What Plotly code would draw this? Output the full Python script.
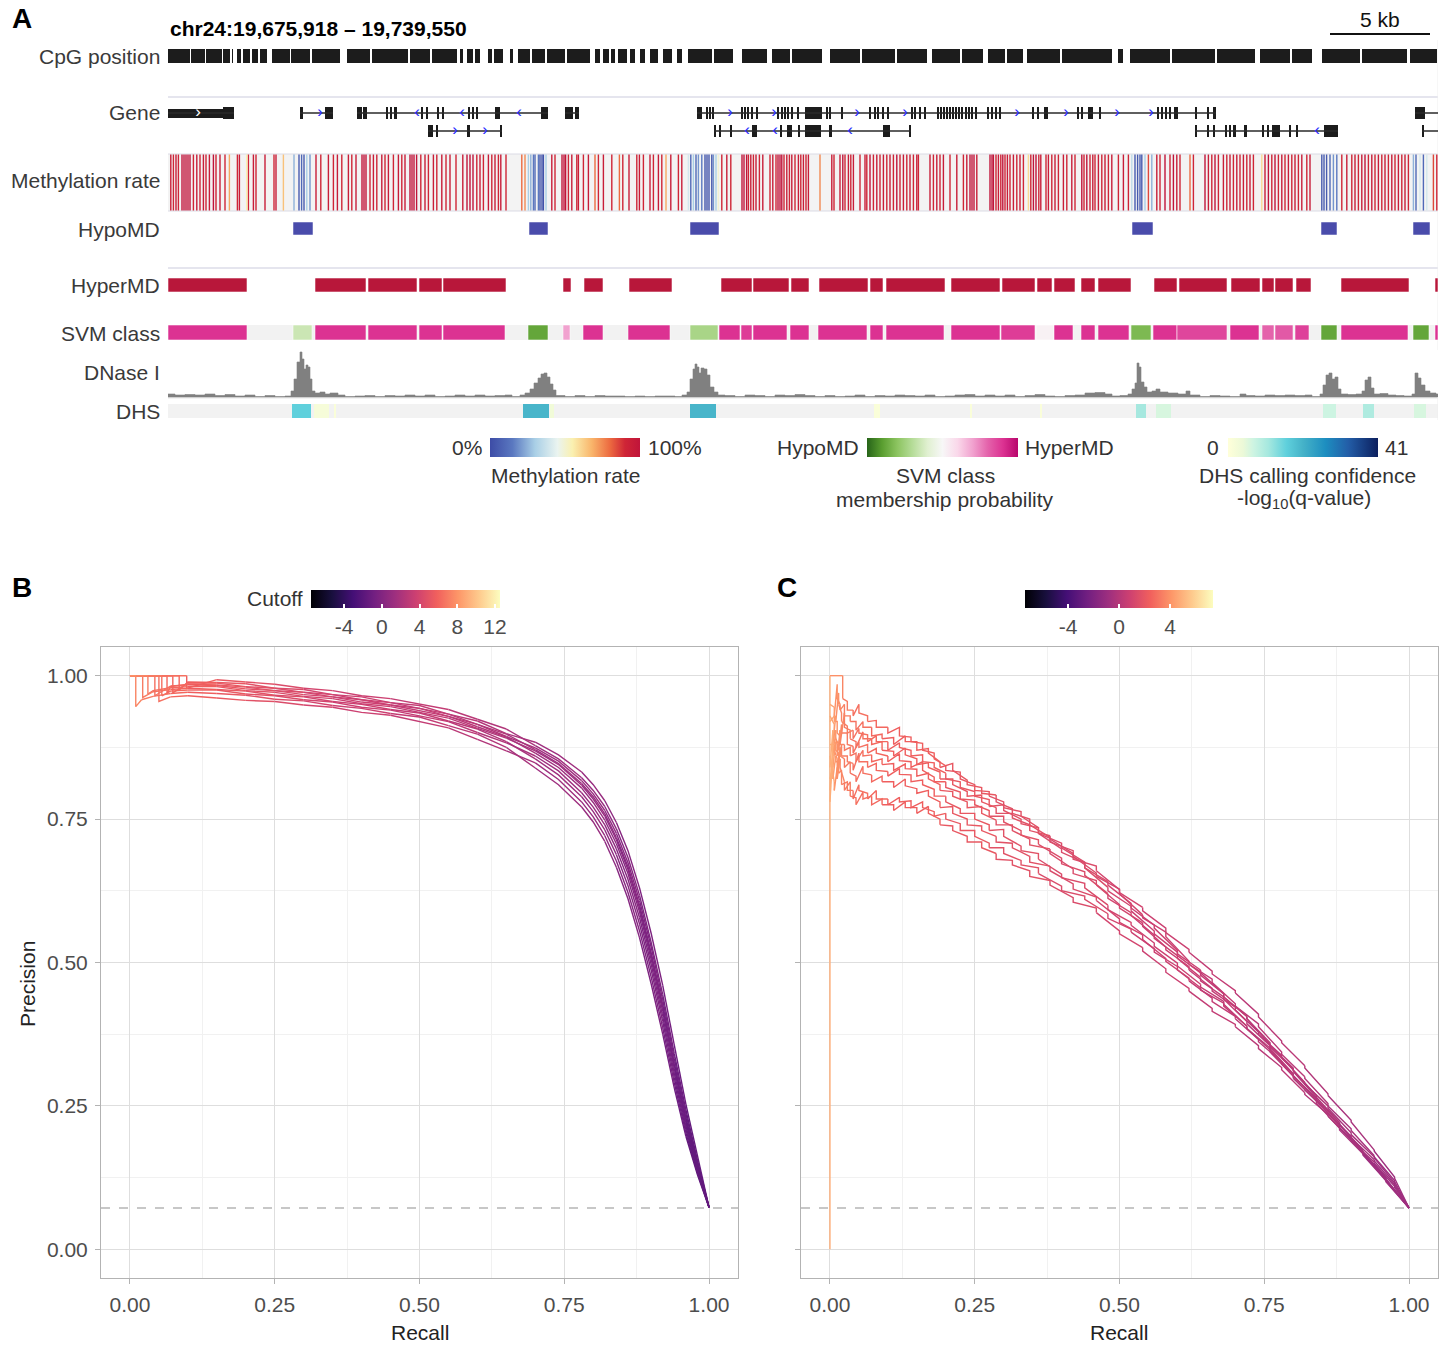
import numpy as np
import plotly.graph_objects as go

W, H = 1447, 1346
FONT = "Liberation Sans, Arial, Helvetica, sans-serif"

# ======================= PANEL A DATA =======================
region_title = "chr24:19,675,918 \u2013 19,739,550"
region_len_kb = 63.5
scale_bar_kb = (58.1, 63.1)
track_labels = ["CpG position", "Gene", "Methylation rate", "HypoMD",
                "HyperMD", "SVM class", "DNase I", "DHS"]

# CpG clusters (start_kb, end_kb)
cpg_blocks = [(0, 1.1), (1.15, 1.85), (1.9, 2.7), (2.75, 3.1), (3.2, 3.25), (3.45, 3.65), (3.75, 4.1),
              (4.2, 4.5), (4.6, 4.95), (5.2, 6.1), (6.15, 7.1), (7.2, 8.6), (8.95, 10.1), (10.2, 12.0),
              (12.1, 13.1), (13.2, 14.45), (14.6, 14.75), (14.95, 15.25), (15.35, 15.6), (16.0, 16.2),
              (16.3, 16.75), (17.1, 17.25), (17.5, 18.1), (18.2, 18.85), (18.95, 19.85), (19.95, 21.1),
              (21.35, 21.6), (21.75, 22.05), (22.15, 22.35), (22.5, 22.95), (23.1, 23.35), (23.6, 23.85),
              (24.1, 24.5), (24.75, 25.2), (25.45, 25.7), (26.0, 27.2), (27.3, 28.25), (28.7, 29.95),
              (30.2, 31.1), (31.2, 32.7), (33.1, 34.6), (34.7, 36.35), (36.45, 37.95), (38.2, 39.6),
              (39.7, 40.75), (41.0, 41.85), (41.95, 42.75), (42.95, 44.6), (44.7, 47.2), (47.5, 47.75),
              (48.1, 50.1), (50.2, 52.35), (52.45, 54.35), (54.6, 56.1), (56.2, 57.2), (57.7, 59.6),
              (59.7, 61.95), (62.1, 63.45)]

# Methylation rate per CpG site (position_kb, rate 0..1)
meth_sites = [
    (0.14, .95), (0.27, .9), (0.40, .95), (0.52, .9), (0.70, 1), (0.80, 1), (0.90, 1), (1.00, 1), (1.10, 1),
    (1.27, .9), (1.44, .95), (1.60, .9), (1.77, .95), (1.90, .9), (2.07, .95), (2.27, 1), (2.40, .9), (2.60, .95),
    (2.85, .9), (3.07, .7), (3.47, .9), (3.57, .95), (3.94, .55), (4.02, .9), (4.27, .95), (4.40, .9), (4.85, .95),
    (5.30, .9), (5.40, .95), (5.77, .65), (6.30, .25), (6.55, .05), (6.68, .1), (6.80, .05), (6.94, .3), (7.10, .2),
    (7.40, .95), (7.64, .9), (8.02, .95), (8.27, .9), (8.47, .95), (8.69, .9), (9.02, .95), (9.19, .9), (9.40, .95),
    (9.70, 1), (9.80, 1), (9.90, 1), (10.10, .9), (10.27, .95), (10.44, .9), (10.69, .95), (10.85, .9), (11.02, .95),
    (11.27, .9), (11.52, .95), (11.69, .9), (11.85, .95), (12.10, 1), (12.20, 1), (12.30, 1), (12.43, 1), (12.64, .9),
    (12.85, .95), (13.02, .9), (13.27, .95), (13.44, .9), (13.69, .95), (13.90, .9), (14.10, .95), (14.40, .9),
    (14.74, .95), (14.95, 1), (15.10, 1), (15.25, 1), (15.44, .9), (15.60, .95), (15.77, .9),
    (16.02, .95), (16.19, .9), (16.35, .95), (16.52, .9), (16.64, .95), (16.90, .9), (17.69, .8), (17.85, .75),
    (18.02, .3), (18.14, .25), (18.27, .15), (18.35, .1), (18.52, .15), (18.60, .02), (18.70, .02), (18.77, .02),
    (18.90, .3), (19.19, .95), (19.35, .9), (19.70, 1), (19.80, 1), (19.88, 1), (20.02, .9), (20.19, .95), (20.44, .9),
    (20.52, .95), (20.77, .9), (21.02, .95), (21.35, .8), (21.52, .9), (21.77, .95), (22.19, .9), (22.57, .8),
    (22.74, .9), (23.05, .95), (23.44, .9), (23.57, .95), (23.77, .9), (24.10, .95), (24.27, .9), (24.52, .95),
    (24.69, .9), (24.90, .7), (25.14, .95), (25.52, .9), (25.69, .95), (26.02, .4), (26.14, .1), (26.27, .3),
    (26.40, .1), (26.52, .2), (26.69, .15), (26.85, .03), (26.95, .03), (27.05, .03), (27.19, .03), (27.27, .2),
    (27.40, .3), (27.52, .5), (27.69, .9), (27.94, .95), (28.14, .9), (28.70, 1), (28.80, 1), (28.93, 1), (29.02, .9),
    (29.14, .95), (29.27, .9), (29.40, .95), (29.57, .9), (29.74, .95), (30.10, .9), (30.24, .95), (30.40, .9),
    (30.50, 1), (30.60, 1), (30.69, 1), (30.80, .9), (30.94, .95), (31.07, .9), (31.19, .95), (31.35, .9), (31.52, .95),
    (31.64, .9), (31.77, .95), (31.90, .9), (32.02, .95), (32.60, .75), (33.19, .95), (33.30, .9), (33.60, .95),
    (33.74, 1), (33.85, .9), (34.02, .95), (34.14, .9), (34.27, .95), (34.60, .9), (34.85, .95), (34.94, .9),
    (35.10, 1), (35.27, .9), (35.44, .95), (35.60, .9), (35.77, .95), (35.94, .9), (36.10, .95), (36.27, .9),
    (36.44, 1), (36.60, .9), (36.77, .95), (36.94, .9), (37.10, .95), (37.27, .9), (37.44, .95), (37.52, .9),
    (38.10, .95), (38.27, .9), (38.44, .95), (38.60, .9), (38.77, .95), (39.10, .9), (39.44, .95), (39.77, .9),
    (39.94, .95), (40.10, 1), (40.20, 1), (40.30, 1), (40.44, .95),
    (41.10, 1), (41.20, 1), (41.27, 1), (41.40, .9), (41.52, .95), (41.64, .9), (41.74, 1), (41.85, .9), (41.97, .95),
    (42.10, .9), (42.27, .95), (42.44, .9), (42.60, .95), (42.77, .9), (43.02, .6), (43.14, .9), (43.27, 1),
    (43.40, 1), (43.54, .9), (43.64, .95), (43.90, .9), (44.02, .95), (44.19, .9), (44.35, .95), (44.52, .9),
    (44.77, .95), (44.94, .9), (45.19, .95), (45.35, .9), (45.69, 1), (45.80, .9), (45.94, 1), (46.10, .9),
    (46.24, .95), (46.35, .9), (46.52, .95), (46.69, .9), (46.85, .95), (47.02, .9), (47.19, .95), (47.52, .9),
    (47.77, .95), (48.02, .9), (48.19, .35), (48.35, .05), (48.48, .05), (48.60, .05), (48.69, .05), (48.85, .3),
    (49.02, .85), (49.19, .25), (49.44, .95), (49.60, .9), (49.85, 1), (50.10, .9), (50.27, 1), (50.44, .95),
    (50.60, .9), (51.10, .8), (51.27, .9), (51.85, 1), (52.02, .95), (52.19, .9), (52.35, 1), (52.52, .9),
    (52.77, .95), (52.94, .9), (53.10, .95), (53.27, .9), (53.44, .95), (53.60, .9), (53.77, .95), (53.94, .9),
    (54.10, .95), (54.27, .9), (54.69, .6), (54.85, .95), (55.02, 1), (55.19, .9), (55.35, 1), (55.52, .9),
    (55.69, .95), (55.85, .9), (56.02, .95), (56.19, .9), (56.35, .95), (56.52, .9), (56.69, .95), (56.94, .9),
    (57.10, .95), (57.69, .05), (57.80, .05), (57.93, .05), (58.10, .1), (58.27, .2), (58.44, .15), (58.69, .9),
    (58.94, .95), (59.19, .9), (59.35, .95), (59.52, .9), (59.69, .95), (59.85, 1), (60.02, .9), (60.19, .95),
    (60.35, .9), (60.52, .95), (60.69, .9), (60.85, .95), (61.02, .9), (61.19, .95), (61.35, .9), (61.52, .95),
    (61.69, .9), (61.85, .95), (62.02, .9), (62.27, .25), (62.40, .1), (62.60, .4), (62.77, .1), (62.94, .4),
    (63.27, .85), (63.44, .9)]

# Gene models: row, transcript span, coding exons, UTR blocks, strand, strand-arrow positions
genes = [
    dict(row=1, span=(0.0, 3.3), exons=[(2.75, 3.3)], utrs=[(0.0, 2.75)], strand="+", arrows=[1.5]),
    dict(row=1, span=(6.6, 8.25), exons=[(6.6, 6.75), (7.85, 8.25)], utrs=[], strand="+", arrows=[7.6]),
    dict(row=1, span=(9.45, 19.0), exons=[(9.45, 9.7), (9.75, 9.95), (10.9, 11.0), (11.1, 11.2), (11.3, 11.45),
                                          (12.65, 12.75), (12.9, 13.0), (13.45, 13.55), (13.7, 13.8), (15.0, 15.1),
                                          (15.2, 15.3), (15.4, 15.5), (16.35, 16.6), (18.65, 19.0)],
         utrs=[], strand="-", arrows=[12.45, 14.7, 17.55]),
    dict(row=1, span=(19.85, 20.55), exons=[(19.85, 20.25), (20.35, 20.55)], utrs=[], strand="-", arrows=[]),
    dict(row=1, span=(26.45, 52.4), exons=[
        (26.45, 26.7), (26.9, 27.0), (27.05, 27.15), (27.2, 27.3), (28.65, 28.75), (28.8, 28.9), (28.95, 29.05),
        (29.15, 29.25), (29.4, 29.5), (30.45, 30.55), (30.65, 30.75), (30.8, 30.9), (30.95, 31.05), (31.15, 31.25),
        (31.45, 31.55), (31.85, 32.7), (32.9, 33.0), (33.05, 33.15), (33.65, 33.75), (35.05, 35.15), (35.3, 35.4),
        (35.45, 35.55), (35.7, 35.8), (35.95, 36.05), (37.15, 37.25), (37.3, 37.4), (37.55, 37.65), (37.8, 37.9),
        (38.45, 38.55), (38.6, 38.7), (38.75, 38.85), (38.9, 39.0), (39.05, 39.15), (39.2, 39.3), (39.35, 39.45),
        (39.5, 39.6), (39.65, 39.75), (39.85, 39.95), (40.0, 40.1), (40.15, 40.25), (40.35, 40.45), (40.95, 41.05),
        (41.15, 41.25), (41.35, 41.45), (41.55, 41.65), (43.2, 43.3), (43.45, 43.55), (43.8, 44.0), (45.45, 45.55),
        (45.65, 45.75), (46.0, 46.25), (46.55, 46.65), (49.45, 49.55), (49.65, 49.75), (49.85, 49.95),
        (50.05, 50.15), (50.3, 50.5), (51.35, 51.45), (51.95, 52.05), (52.25, 52.4)],
         utrs=[], strand="+", arrows=[28.1, 30.3, 34.45, 36.85, 42.45, 44.9, 47.45, 49.15]),
    dict(row=1, span=(62.35, 63.5), exons=[(62.35, 62.85)], utrs=[], strand="+", arrows=[]),
    dict(row=2, span=(13.0, 16.7), exons=[(13.0, 13.25), (13.4, 13.5), (14.95, 15.1), (16.6, 16.7)],
         utrs=[], strand="+", arrows=[14.35, 15.85]),
    dict(row=2, span=(27.3, 37.15), exons=[(27.3, 27.4), (27.55, 27.65), (28.1, 28.2), (29.2, 29.45), (30.6, 30.7),
                                           (30.95, 31.2), (31.5, 31.6), (31.85, 32.65), (33.05, 33.2),
                                           (35.75, 36.1), (37.05, 37.15)],
         utrs=[], strand="-", arrows=[28.95, 30.35, 34.1]),
    dict(row=2, span=(51.35, 58.5), exons=[(51.35, 51.45), (51.95, 52.05), (52.25, 52.35), (52.85, 52.95),
                                           (53.05, 53.15), (53.25, 53.4), (53.8, 53.95), (54.7, 54.8),
                                           (54.95, 55.05), (55.2, 55.6), (56.05, 56.15), (56.4, 56.5), (57.8, 58.5)],
         utrs=[], strand="-", arrows=[57.45]),
    dict(row=2, span=(62.7, 63.5), exons=[(62.7, 62.8)], utrs=[], strand="+", arrows=[]),
]

hypomd_regions = [(6.25, 7.25), (18.05, 19.0), (26.1, 27.55), (48.2, 49.25), (57.65, 58.45), (62.25, 63.1)]

hypermd_regions = [(0, 3.95), (7.35, 9.9), (10.0, 12.45), (12.55, 13.7), (13.75, 16.9), (19.75, 20.15),
                   (20.8, 21.75), (23.05, 25.2), (27.65, 29.2), (29.25, 31.05), (31.15, 32.05), (32.55, 35.0),
                   (35.1, 35.75), (35.9, 38.85), (39.15, 41.6), (41.7, 43.35), (43.45, 44.2), (44.3, 45.35),
                   (45.65, 46.35), (46.5, 48.15), (49.3, 50.45), (50.55, 52.95), (53.15, 54.6), (54.7, 55.3),
                   (55.35, 56.25), (56.4, 57.15), (58.65, 62.05), (63.35, 63.5)]

# SVM segments: (start, end, class membership probability: 0 = HypoMD, 1 = HyperMD)
svm_segments = [(0, 3.95, .9), (6.25, 7.2, .35), (7.35, 9.9, .9), (10.0, 12.45, .9), (12.55, 13.7, .9),
                (13.75, 16.85, .9), (18.0, 19.0, .12), (19.75, 20.1, .7), (20.75, 21.75, .9), (23.0, 25.1, .9),
                (26.1, 27.5, .27), (27.55, 28.6, .9), (28.65, 29.2, .88), (29.25, 30.95, .9), (31.1, 32.05, .9),
                (32.5, 34.95, .9), (35.1, 35.75, .9), (35.9, 38.8, .9), (39.15, 41.6, .9), (41.65, 43.35, .88),
                (43.4, 44.3, .52), (44.3, 45.25, .9), (45.65, 46.35, .9), (46.5, 48.05, .9), (48.15, 49.15, .17),
                (49.25, 50.45, .9), (50.45, 52.95, .86), (53.1, 54.55, .9), (54.7, 55.3, .8), (55.35, 56.25, .82),
                (56.35, 57.05, .87), (57.65, 58.45, .12), (58.65, 62.0, .9), (62.25, 63.05, .12), (63.35, 63.5, .9)]

# DNase I signal (position_kb, signal)
dnase_pos = [0, 0.35, 0.85, 1.35, 1.85, 2.35, 2.85, 3.35, 3.85, 4.35, 4.85, 5.35, 5.85, 6.15, 6.3, 6.45, 6.6,
             6.7, 6.8, 6.9, 7.0, 7.1, 7.2, 7.35, 7.6, 7.85, 8.1, 8.5, 8.85, 9.35, 9.85, 10.35, 10.85, 11.35,
             11.85, 12.35, 12.85, 13.35, 13.85, 14.35, 14.85, 15.35, 15.85, 16.35, 16.85, 17.2, 17.6, 17.85,
             18.1, 18.3, 18.5, 18.65, 18.8, 18.95, 19.1, 19.25, 19.4, 19.85, 20.35, 20.85, 21.35, 21.85, 22.35,
             22.85, 23.35, 23.85, 24.35, 24.85, 25.35, 25.7, 25.95, 26.1, 26.25, 26.35, 26.45, 26.55, 26.65,
             26.8, 26.95, 27.1, 27.3, 27.5, 27.85, 28.35, 28.85, 29.35, 29.85, 30.35, 30.85, 31.35, 31.85,
             32.35, 32.85, 33.35, 33.85, 34.35, 34.85, 35.35, 35.85, 36.35, 36.85, 37.35, 37.85, 38.35, 38.85,
             39.35, 39.85, 40.35, 40.85, 41.35, 41.85, 42.35, 42.85, 43.35, 43.85, 44.35, 44.85, 45.35, 45.85,
             46.35, 46.85, 47.2, 47.6, 48.0, 48.2, 48.35, 48.45, 48.55, 48.65, 48.8, 48.95, 49.2, 49.4, 49.6,
             50.0, 50.5, 50.9, 51.1, 51.6, 52.1, 52.6, 53.1, 53.6, 53.9, 54.35, 54.85, 55.35, 55.85, 56.35,
             56.85, 57.2, 57.6, 57.75, 57.9, 58.05, 58.2, 58.35, 58.5, 58.65, 59.0, 59.4, 59.7, 59.85, 60.0,
             60.15, 60.3, 60.6, 61.0, 61.4, 61.8, 62.2, 62.35, 62.5, 62.65, 62.85, 63.1, 63.4, 63.5]
dnase_signal = [3, 2, 2.5, 2, 3, 1.5, 2.5, 1, 2, 0.5, 1.5, 0.5, 1, 6, 18, 35, 45,
                38, 28, 32, 30, 18, 6, 4, 5, 3, 4, 2, 0.5, 1, 1.5, 0.5, 1.5, 1,
                2, 1, 2, 0.5, 1, 2, 1, 2, 1, 1.5, 2, 0.5, 2, 4,
                8, 14, 19, 23, 24, 20, 13, 7, 1.5, 0.5, 1.5, 0.5, 1.5, 1, 1,
                0.5, 1, 0.5, 1, 1, 0.5, 2, 5, 18, 28, 33, 30, 24, 29,
                28, 22, 10, 5, 2, 1.5, 0.5, 2, 1.5, 0.5, 2, 1.5, 2.5, 1.5,
                0.5, 1.5, 0.5, 1, 2, 0.5, 1.5, 1, 2, 1.5, 1, 2, 0.5, 1,
                2, 2.5, 1, 2, 1, 2, 0.5, 1.5, 2.5, 1, 0.5, 1.5, 2, 4,
                4.5, 3, 1, 1.5, 3, 8, 14, 34, 30, 15, 10, 5, 6, 8, 5,
                4, 3, 6, 2, 0.5, 1.5, 1, 0.5, 3, 1.5, 1, 2, 1.5, 2, 1.5,
                2, 0.5, 3, 12, 22, 24, 18, 20, 8, 3, 2.5, 3, 6, 17, 20,
                9, 3, 3.5, 2, 1.5, 1, 3, 24, 19, 12, 6, 4, 3, 3]

# DHS calls: (start, end, -log10 q-value)
dhs_peaks = [(6.2, 7.15, 16), (7.3, 8.05, 2), (8.3, 8.4, 1), (17.75, 19.05, 20), (19.1, 19.3, 3),
             (26.1, 27.4, 20), (35.3, 35.6, 1), (40.1, 40.2, 1), (43.6, 43.7, 1), (48.4, 48.9, 11),
             (49.4, 50.15, 6), (57.75, 58.4, 7), (59.75, 60.3, 10), (62.3, 62.9, 6)]

# ======================= PANEL B / C DATA =======================
ticks_pr = [0, 0.25, 0.5, 0.75, 1.0]
tick_text_pr = ["0.00", "0.25", "0.50", "0.75", "1.00"]
baseline_precision = 0.072

recall_B = [0.02, 0.04, 0.07, 0.10, 0.15, 0.20, 0.25, 0.30, 0.35, 0.40, 0.45, 0.50, 0.55, 0.60, 0.65,
            0.70, 0.74, 0.78, 0.80, 0.82, 0.84, 0.86, 0.88, 0.90, 0.92, 0.94, 0.96, 0.98, 1.00]
precision_B = [
    [.985, .988, .990, .992, .993, .989, .985, .978, .974, .965, .960, .950, .941, .924, .907,
     .878, .855, .822, .800, .772, .733, .683, .617, .535, .444, .341, .243, .155, .073],
    [.980, .983, .986, .989, .988, .986, .978, .976, .967, .963, .953, .948, .933, .921, .899,
     .884, .862, .832, .810, .782, .744, .695, .630, .551, .460, .356, .253, .162, .073],
    [.972, .980, .984, .987, .987, .981, .978, .971, .967, .958, .953, .943, .933, .915, .898,
     .871, .847, .812, .789, .759, .718, .667, .600, .517, .426, .324, .229, .147, .073],
    [.968, .976, .981, .985, .984, .980, .974, .971, .963, .958, .949, .943, .929, .915, .894,
     .874, .851, .817, .794, .765, .725, .674, .608, .527, .435, .333, .236, .151, .073],
    [.975, .978, .982, .984, .983, .977, .974, .967, .963, .954, .949, .939, .929, .911, .893,
     .865, .840, .804, .779, .748, .707, .655, .588, .506, .415, .315, .221, .142, .073],
    [.970, .974, .979, .981, .981, .974, .971, .964, .960, .951, .946, .936, .926, .908, .891,
     .869, .845, .809, .785, .755, .714, .662, .595, .513, .422, .321, .226, .145, .073],
    [.966, .972, .976, .978, .976, .973, .966, .963, .955, .950, .941, .935, .921, .907, .885,
     .855, .827, .789, .763, .731, .688, .634, .567, .487, .397, .299, .209, .136, .073],
    [.962, .968, .973, .975, .975, .968, .965, .958, .954, .945, .940, .930, .920, .901, .883,
     .860, .834, .796, .771, .740, .698, .645, .578, .497, .406, .307, .215, .139, .073],
    [.958, .964, .969, .971, .969, .966, .959, .956, .948, .943, .934, .928, .913, .898, .875,
     .839, .810, .771, .745, .711, .666, .611, .543, .463, .375, .281, .197, .130, .073],
    [.955, .960, .963, .965, .961, .957, .955, .949, .945, .936, .931, .920, .909, .889, .869,
     .848, .819, .780, .754, .721, .677, .622, .555, .475, .386, .290, .203, .133, .073],
]
# first false positive of each fold: recall where precision leaves 1.0, and precision right after
first_fp_recall_B = [0.098, 0.085, 0.074, 0.064, 0.043, 0.031, 0.022, 0.055, 0.010, 0.05]
first_fp_prec_B = [0.978, 0.975, 0.970, 0.968, 0.965, 0.968, 0.962, 0.965, 0.946, 0.955]
# cutoff (colour) along recall
cut_recall_B = [0, 0.03, 0.1, 0.2, 0.35, 0.5, 0.65, 0.8, 0.9, 1.0]
cut_value_B = [7.8, 6.8, 5.8, 4.9, 3.8, 3.1, 2.2, 1.0, -0.3, -1.8]
cut_range_B = (-7.5, 12.53)
cut_ticks_B = [-4, 0, 4, 8, 12]

# two recall grids (folds alternate between them)
recall_C = [0.005, 0.01, 0.015, 0.02, 0.03, 0.04, 0.05, 0.065, 0.08, 0.1, 0.12, 0.14, 0.16, 0.18, 0.2,
            0.225, 0.25, 0.275, 0.3, 0.33, 0.36, 0.4, 0.44, 0.48, 0.52, 0.56, 0.6, 0.64, 0.68, 0.72,
            0.76, 0.8, 0.84, 0.88, 0.92, 0.96, 1.0]
recall_C_alt = [0.0075, 0.0125, 0.0175, 0.025, 0.035, 0.045, 0.057, 0.072, 0.09, 0.11, 0.13, 0.15, 0.17, 0.19,
                0.212, 0.237, 0.262, 0.287, 0.315, 0.345, 0.38, 0.42, 0.46, 0.5, 0.54, 0.58, 0.62, 0.66, 0.7,
                0.74, 0.78, 0.82, 0.86, 0.9, 0.94, 0.975, 1.0]
# precision just after each false-positive run (bottom of each saw tooth)
precision_C = [
    [0.97, 0.98, 0.96, 0.95, 0.94, 0.93, 0.935, 0.92, 0.91, 0.90, 0.895, 0.885, 0.87, 0.855, 0.835, 0.82, 0.80,
     0.79, 0.77, 0.755, 0.725, 0.70, 0.665, 0.635, 0.595, 0.56, 0.515, 0.482, 0.44, 0.402, 0.355, 0.312, 0.265,
     0.218, 0.17, 0.123, 0.072],
    [0.93, 0.96, 0.94, 0.93, 0.92, 0.905, 0.91, 0.895, 0.89, 0.88, 0.885, 0.87, 0.865, 0.84, 0.835, 0.81, 0.795,
     0.78, 0.76, 0.74, 0.71, 0.685, 0.65, 0.62, 0.578, 0.545, 0.497, 0.465, 0.424, 0.388, 0.34, 0.298, 0.25,
     0.207, 0.161, 0.118, 0.072],
    [0.88, 0.92, 0.95, 0.92, 0.90, 0.89, 0.90, 0.885, 0.885, 0.87, 0.875, 0.86, 0.85, 0.84, 0.82, 0.805, 0.79,
     0.772, 0.765, 0.742, 0.725, 0.692, 0.665, 0.625, 0.59, 0.55, 0.512, 0.478, 0.44, 0.402, 0.353, 0.31, 0.262,
     0.217, 0.168, 0.122, 0.072],
    [0.92, 0.90, 0.88, 0.91, 0.89, 0.875, 0.89, 0.88, 0.87, 0.86, 0.862, 0.845, 0.84, 0.82, 0.81, 0.79, 0.78,
     0.76, 0.752, 0.73, 0.715, 0.68, 0.66, 0.622, 0.59, 0.552, 0.518, 0.48, 0.447, 0.405, 0.36, 0.316, 0.268,
     0.222, 0.171, 0.124, 0.072],
    [0.86, 0.89, 0.87, 0.90, 0.88, 0.865, 0.875, 0.865, 0.865, 0.85, 0.852, 0.84, 0.835, 0.815, 0.805, 0.785,
     0.775, 0.755, 0.745, 0.722, 0.706, 0.672, 0.652, 0.612, 0.582, 0.542, 0.507, 0.468, 0.436, 0.393, 0.35,
     0.303, 0.259, 0.212, 0.167, 0.12, 0.072],
    [0.90, 0.86, 0.88, 0.87, 0.86, 0.85, 0.86, 0.85, 0.845, 0.835, 0.838, 0.825, 0.82, 0.80, 0.79, 0.77, 0.76,
     0.74, 0.73, 0.705, 0.69, 0.655, 0.635, 0.595, 0.563, 0.522, 0.487, 0.45, 0.417, 0.375, 0.334, 0.288, 0.246,
     0.2, 0.159, 0.114, 0.072],
    [0.84, 0.87, 0.85, 0.86, 0.85, 0.835, 0.85, 0.84, 0.835, 0.825, 0.828, 0.815, 0.81, 0.79, 0.78, 0.76, 0.75,
     0.73, 0.72, 0.695, 0.68, 0.648, 0.63, 0.592, 0.565, 0.528, 0.494, 0.457, 0.427, 0.385, 0.344, 0.298, 0.255,
     0.208, 0.165, 0.118, 0.072],
    [0.87, 0.83, 0.86, 0.84, 0.83, 0.815, 0.83, 0.815, 0.815, 0.805, 0.808, 0.795, 0.79, 0.77, 0.76, 0.74, 0.73,
     0.71, 0.70, 0.675, 0.66, 0.628, 0.608, 0.57, 0.54, 0.502, 0.468, 0.432, 0.402, 0.362, 0.323, 0.278, 0.238,
     0.194, 0.154, 0.111, 0.072],
    [0.82, 0.85, 0.83, 0.81, 0.80, 0.785, 0.80, 0.785, 0.785, 0.775, 0.78, 0.77, 0.77, 0.755, 0.75, 0.73, 0.72,
     0.70, 0.69, 0.67, 0.655, 0.625, 0.61, 0.577, 0.553, 0.518, 0.487, 0.452, 0.424, 0.385, 0.347, 0.301, 0.26,
     0.212, 0.168, 0.119, 0.072],
    [0.80, 0.82, 0.84, 0.80, 0.79, 0.775, 0.785, 0.775, 0.775, 0.765, 0.77, 0.76, 0.76, 0.74, 0.73, 0.71, 0.70,
     0.68, 0.67, 0.65, 0.635, 0.605, 0.587, 0.55, 0.52, 0.483, 0.45, 0.415, 0.388, 0.35, 0.313, 0.27, 0.232,
     0.189, 0.15, 0.108, 0.072],
]
# height of the saw tooth (precision before the false-positive run) at each recall of the grid
tooth_C = [
    [.02, .015, .025, .01, .015, .01, .015, .01, .012, .01, .015, .008, .012, .01, .008, .012, .01, .008, .01, .008,
     .01, .008, .01, .006, .008, .005, .006, .005, .006, .004, .005, .004, .003, .003, .003, .002, 0],
    [.015, .025, .01, .02, .01, .015, .01, .015, .008, .012, .01, .015, .008, .01, .012, .008, .01, .012, .008, .01,
     .008, .01, .006, .008, .005, .008, .005, .006, .004, .005, .004, .003, .004, .003, .002, .002, 0],
    [.025, .01, .02, .015, .012, .015, .008, .012, .01, .015, .008, .01, .012, .008, .01, .01, .008, .012, .01, .008,
     .01, .006, .009, .006, .008, .005, .006, .004, .005, .004, .004, .004, .003, .003, .002, .002, 0],
    [.01, .02, .015, .025, .015, .01, .012, .01, .015, .008, .012, .01, .008, .012, .01, .008, .012, .01, .008, .01,
     .006, .01, .008, .005, .006, .008, .005, .005, .004, .005, .003, .004, .003, .003, .002, .002, 0],
    [.02, .015, .01, .015, .02, .012, .01, .015, .008, .01, .012, .01, .015, .008, .01, .012, .008, .01, .01, .008,
     .008, .01, .006, .008, .005, .006, .005, .006, .004, .004, .005, .003, .003, .003, .002, .002, 0],
    [.015, .02, .025, .01, .015, .015, .01, .012, .01, .012, .008, .012, .01, .01, .008, .01, .012, .008, .01, .01,
     .008, .008, .008, .006, .006, .005, .006, .005, .005, .004, .004, .003, .004, .003, .002, .002, 0],
    [.025, .015, .015, .02, .01, .012, .015, .01, .012, .008, .01, .012, .008, .012, .01, .008, .01, .01, .012, .008,
     .01, .006, .008, .008, .005, .006, .005, .005, .005, .004, .004, .004, .003, .003, .002, .002, 0],
    [.01, .025, .015, .015, .02, .01, .012, .012, .01, .01, .012, .008, .01, .01, .012, .01, .008, .01, .008, .01,
     .008, .009, .006, .006, .008, .005, .005, .006, .004, .004, .004, .003, .003, .003, .002, .002, 0],
    [.02, .01, .02, .025, .015, .015, .01, .01, .015, .01, .008, .012, .01, .008, .01, .012, .01, .008, .01, .008,
     .01, .008, .006, .008, .005, .006, .006, .004, .005, .004, .004, .004, .003, .003, .002, .002, 0],
    [.015, .02, .015, .015, .025, .012, .012, .015, .01, .01, .01, .01, .012, .01, .008, .01, .01, .01, .008, .01,
     .008, .008, .008, .005, .006, .006, .005, .005, .004, .005, .004, .003, .003, .003, .002, .002, 0],
]
grid_of_fold_C = [recall_C, recall_C_alt] * 5
# leading points of each fold before the shared recall grid
head_recall_C = [[0.0, 0.0, 0.022, 0.022], [0.0], [0.0], [0.0], [0.0], [0.0], [0.0], [0.0], [0.0], [0.0]]
head_prec_C = [[0.0, 1.0, 1.0, 0.96], [0.95], [0.84], [0.92], [0.80], [0.93], [0.78], [0.88], [0.82], [0.86]]
cut_recall_C = [0, 0.01, 0.03, 0.1, 0.25, 0.4, 0.6, 0.8, 1.0]
cut_value_C = [5.0, 4.0, 3.2, 2.5, 2.0, 1.5, 0.7, 0.0, -1.0]
cut_range_C = (-7.37, 7.37)
cut_ticks_C = [-4, 0, 4]

# ======================= COLOUR SCALES =======================
MAGMA = ['#000004', '#180f3d', '#440f76', '#721f81', '#9e2f7f', '#cd4071', '#f1605d', '#fd9668', '#feca8d',
         '#fcfdbf']
magma_scale = [[i / (len(MAGMA) - 1), c] for i, c in enumerate(MAGMA)]
meth_scale = [[0, '#3d4ca6'], [0.15, '#5a78c0'], [0.3, '#a9cfe6'], [0.45, '#eaf4f0'], [0.55, '#faf0b0'],
              [0.68, '#f9b46a'], [0.8, '#ec6a40'], [0.9, '#cf2536'], [1, '#c0143a']]
svm_scale = [[0, '#276419'], [0.1, '#5a9e30'], [0.2, '#8cc460'], [0.3, '#b5dc98'], [0.4, '#e0f0d0'],
             [0.5, '#f7f7f7'], [0.6, '#fad8ea'], [0.7, '#f1a2cf'], [0.8, '#e463ab'], [0.9, '#dc3292'],
             [1, '#b8066c']]
dhs_scale = [[0, '#ffffd9'], [0.1, '#ecf9d8'], [0.17, '#cdf4e2'], [0.27, '#a5e8df'], [0.39, '#5fd0dc'],
             [0.5, '#45b2c8'], [0.65, '#1d8ec0'], [0.8, '#235ea8'], [1, '#0c1f5e']]


def hex2rgb(h):
    h = h.lstrip('#')
    return tuple(int(h[i:i + 2], 16) for i in (0, 2, 4))


def cs_color(scale, t):
    t = min(max(float(t), 0.0), 1.0)
    for (p0, c0), (p1, c1) in zip(scale[:-1], scale[1:]):
        if t <= p1:
            f = 0 if p1 == p0 else (t - p0) / (p1 - p0)
            a, b = hex2rgb(c0), hex2rgb(c1)
            return 'rgb(%d,%d,%d)' % tuple(round(a[i] + (b[i] - a[i]) * f) for i in range(3))
    return 'rgb(%d,%d,%d)' % hex2rgb(scale[-1][1])


# ======================= LAYOUT GEOMETRY (pixels) =======================
def px(x):
    return x / W


def py(y):
    return 1 - y / H


Y_CPG = (49, 63)
Y_ROW = {1: 113, 2: 131}
Y_METH = (154, 211)
Y_HYPO = (222, 235)
Y_HYPER = (278, 292)
Y_SVM = (325, 340)
Y_DNASE = (350, 397)
Y_DHS = (404, 418)
label_y = [57, 112, 181, 229, 285, 333, 372, 411]

fig = go.Figure()
shapes = []
annotations = []


def ann(text, x, y, xanchor='center', yanchor='middle', size=21, color='#333333', **kw):
    annotations.append(dict(text=text, x=px(x), y=py(y), xref='paper', yref='paper', xanchor=xanchor,
                            yanchor=yanchor, showarrow=False,
                            font=dict(family=FONT, size=size, color=color), **kw))


def seg_bar(segs, y0, y1, **kw):
    s = np.array([a for a, b in segs], dtype=float)
    e = np.array([b for a, b in segs], dtype=float)
    return go.Bar(x=(s + e) / 2, width=e - s, base=[y0] * len(s), y=[y1 - y0] * len(s), xaxis='x', yaxis='y',
                  hoverinfo='skip', showlegend=False, **kw)


def band(y0, y1, color):
    shapes.append(dict(type='rect', xref='x', yref='y', x0=0, x1=region_len_kb, y0=y0, y1=y1,
                       fillcolor=color, line=dict(width=0), layer='below'))


def hline(y, color, width=1.2):
    shapes.append(dict(type='line', xref='x', yref='y', x0=0, x1=region_len_kb, y0=y, y1=y,
                       line=dict(color=color, width=width), layer='below'))


# ---- backgrounds / separators
hline(97, '#dcdce8', 1.5)
hline(268, '#dcdce8', 1.5)
band(Y_METH[0], Y_METH[1], '#f3f3f3')
hline(Y_METH[0], '#dcdce6', 1.2)
hline(Y_METH[1], '#dcdce6', 1.2)
band(Y_SVM[0], Y_SVM[1], '#f2f2f2')
band(Y_DHS[0], Y_DHS[1], '#f2f2f2')
hline(Y_DNASE[1] + 0.5, '#d0d0d0', 1.5)
shapes.append(dict(type='line', xref='x', yref='y', x0=region_len_kb, x1=region_len_kb, y0=40, y1=420,
                   line=dict(color='#eeeeee', width=1), layer='below'))
# scale bar
shapes.append(dict(type='line', xref='x', yref='y', x0=scale_bar_kb[0], x1=scale_bar_kb[1], y0=34, y1=34,
                   line=dict(color='#111111', width=2)))

# ---- CpG positions
fig.add_trace(seg_bar(cpg_blocks, *Y_CPG, marker=dict(color='#1c1c1c', line=dict(width=0))))

# ---- Genes
intron_x, intron_y = [], []
ex_segs = {1: [], 2: []}
utr_segs = {1: [], 2: []}
arrow_x = {'blue': [], 'white': []}
arrow_y = {'blue': [], 'white': []}
arrow_t = {'blue': [], 'white': []}
for g in genes:
    yc = Y_ROW[g['row']]
    intron_x += [g['span'][0], g['span'][1], None]
    intron_y += [yc, yc, None]
    ex_segs[g['row']] += g['exons']
    utr_segs[g['row']] += g['utrs']
    for a in g['arrows']:
        inside = any(s <= a <= e for s, e in g['exons'] + g['utrs'])
        k = 'white' if inside else 'blue'
        arrow_x[k].append(a)
        arrow_y[k].append(yc)
        arrow_t[k].append('\u203a' if g['strand'] == '+' else '\u2039')
fig.add_trace(go.Scatter(x=intron_x, y=intron_y, mode='lines', line=dict(color='#2a2a2a', width=1.5),
                         xaxis='x', yaxis='y', hoverinfo='skip', showlegend=False))
for row in (1, 2):
    yc = Y_ROW[row]
    if utr_segs[row]:
        fig.add_trace(seg_bar(utr_segs[row], yc - 4, yc + 5, marker=dict(color='#1c1c1c', line=dict(width=0))))
    fig.add_trace(seg_bar(ex_segs[row], yc - 6, yc + 6, marker=dict(color='#1c1c1c', line=dict(width=0))))
for k, col in (('blue', '#2b2bff'), ('white', '#ffffff')):
    fig.add_trace(go.Scatter(x=arrow_x[k], y=arrow_y[k], mode='text', text=arrow_t[k],
                             textfont=dict(family=FONT, size=17, color=col), textposition='middle center',
                             xaxis='x', yaxis='y', hoverinfo='skip', showlegend=False))

# ---- Methylation rate (one vertical tick per CpG site)
groups = {}
for pos, rate in meth_sites:
    groups.setdefault(rate, []).append(pos)
for rate in sorted(groups, reverse=True):
    xs, ys = [], []
    for p in groups[rate]:
        xs += [p, p, None]
        ys += [Y_METH[0] + 0.5, Y_METH[1] - 0.5, None]
    fig.add_trace(go.Scatter(x=xs, y=ys, mode='lines', line=dict(color=cs_color(meth_scale, rate), width=1.4),
                             xaxis='x', yaxis='y', hoverinfo='skip', showlegend=False))


def hbar(cx, top, length, thick, **kw):
    d = dict(orientation='h', x=px(cx), xanchor='center', y=py(top), yanchor='top', len=length,
             lenmode='pixels', thickness=thick, thicknessmode='pixels', outlinewidth=0, xpad=0, ypad=0)
    d.update(kw)
    return d


fig.add_trace(go.Scatter(x=[-10], y=[-10], mode='markers', xaxis='x', yaxis='y', hoverinfo='skip',
                         showlegend=False,
                         marker=dict(size=1, color=[0.5], colorscale=meth_scale, cmin=0, cmax=1, showscale=True,
                                     colorbar=hbar(565, 438, 150, 19, showticklabels=False, ticks=''))))

# ---- HypoMD / HyperMD
fig.add_trace(seg_bar(hypomd_regions, *Y_HYPO, marker=dict(color='#4a4cab',
                                                           line=dict(width=1, color='rgba(255,255,255,0.5)'))))
fig.add_trace(seg_bar(hypermd_regions, *Y_HYPER, marker=dict(color='#b8173a',
                                                             line=dict(width=1, color='rgba(255,255,255,0.55)'))))

# ---- SVM class
fig.add_trace(seg_bar([(a, b) for a, b, v in svm_segments], *Y_SVM,
                      marker=dict(color=[v for a, b, v in svm_segments], colorscale=svm_scale, cmin=0, cmax=1,
                                  line=dict(width=1, color='rgba(255,255,255,0.55)'), showscale=True,
                                  colorbar=hbar(942.5, 438, 151, 19, showticklabels=False, ticks=''))))

# ---- DNase I
fig.add_trace(go.Scatter(x=dnase_pos, y=dnase_signal, mode='lines', line=dict(color='#7f7f7f', width=0.6,
                                                                              shape='hv'),
                         fill='tozeroy', fillcolor='#808080', xaxis='x', yaxis='y2', hoverinfo='skip',
                         showlegend=False))

# ---- DHS
fig.add_trace(seg_bar([(a, b) for a, b, v in dhs_peaks], *Y_DHS,
                      marker=dict(color=[v for a, b, v in dhs_peaks], colorscale=dhs_scale, cmin=0, cmax=41,
                                  line=dict(width=0), showscale=True,
                                  colorbar=hbar(1303, 438, 150, 19, showticklabels=False, ticks=''))))


# ======================= PR CURVES =======================
def add_pr(curves, cut_r, cut_v, crange, xa, ya, nb=48):
    cmin, cmax = crange
    runs = {}
    for r, p in curves:
        r = np.asarray(r, float)
        p = np.asarray(p, float)
        mids = (r[:-1] + r[1:]) / 2
        cv = np.interp(mids, cut_r, cut_v)
        t = np.clip((cv - cmin) / (cmax - cmin), 0, 1)
        b = np.round(t * (nb - 1)).astype(int)
        start = 0
        for i in range(1, len(b) + 1):
            if i == len(b) or b[i] != b[start]:
                runs.setdefault(int(b[start]), []).append((r[start:i + 1], p[start:i + 1]))
                start = i
    for k in sorted(runs):
        xs, ys = [], []
        for sr, sp in runs[k]:
            xs += list(sr) + [None]
            ys += list(sp) + [None]
        fig.add_trace(go.Scatter(x=xs, y=ys, mode='lines',
                                 line=dict(color=cs_color(magma_scale, k / (nb - 1)), width=1.4),
                                 xaxis=xa, yaxis=ya, hoverinfo='skip', showlegend=False))


curves_B = []
for prec, r1, pd in zip(precision_B, first_fp_recall_B, first_fp_prec_B):
    rr = [0.0, r1, r1] + [r for r in recall_B if r > r1 + 0.003]
    pp = [1.0, 1.0, pd] + [p for r, p in zip(recall_B, prec) if r > r1 + 0.003]
    curves_B.append((rr, pp))
add_pr(curves_B, cut_recall_B, cut_value_B, cut_range_B, 'x2', 'y3')

curves_C = []
for grid, prec, tooth, hr, hp in zip(grid_of_fold_C, precision_C, tooth_C, head_recall_C, head_prec_C):
    last = hr[-1]
    tooth = list(tooth) + [0] * (len(grid) - len(tooth))
    rr, pp = list(hr), list(hp)
    for r, p, d in zip(grid, prec, tooth):
        if r > last + 0.003:
            if d > 0:
                rr += [r, r]
                pp += [p + d, p]
            else:
                rr.append(r)
                pp.append(p)
    curves_C.append((rr, pp))
add_pr(curves_C, cut_recall_C, cut_value_C, cut_range_C, 'x3', 'y4')

# colour bars for the cutoff
for xa, ya, cx, ln, crange, cticks in (('x2', 'y3', 405.5, 189, cut_range_B, cut_ticks_B),
                                       ('x3', 'y4', 1119, 188, cut_range_C, cut_ticks_C)):
    fig.add_trace(go.Scatter(x=[-1], y=[-1], mode='markers', xaxis=xa, yaxis=ya, hoverinfo='skip',
                             showlegend=False,
                             marker=dict(size=1, color=[0], colorscale=magma_scale, cmin=crange[0],
                                         cmax=crange[1], showscale=True,
                                         colorbar=hbar(cx, 590, ln, 18, tickvals=cticks,
                                                       ticktext=[str(v) for v in cticks], ticks='inside',
                                                       ticklen=4, tickwidth=1.5, tickcolor='white',
                                                       tickfont=dict(family=FONT, size=21, color='#4d4d4d')))))

# baseline precision (dashed)
for xr, yr in (('x2 domain', 'y3'), ('x3 domain', 'y4')):
    shapes.append(dict(type='line', xref=xr, yref=yr, x0=0, x1=1, y0=baseline_precision, y1=baseline_precision,
                       line=dict(color='#b5b5b5', width=1.5, dash='dash'), layer='above'))

# ======================= TEXT =======================
ann('<b>A</b>', 10, 19, xanchor='left', size=28, color='#000000')
ann('<b>B</b>', 10, 587, xanchor='left', size=28, color='#000000')
ann('<b>C</b>', 775, 587, xanchor='left', size=28, color='#000000')
ann('<b>%s</b>' % region_title, 168, 28, xanchor='left', size=21, color='#000000')
ann('5 kb', 1380, 20, size=21, color='#111111')
for lab, yy in zip(track_labels, label_y):
    ann(lab, 162, yy, xanchor='right', color='#3a3a3a')
ann('0%', 484, 448, xanchor='right')
ann('100%', 646, 448, xanchor='left')
ann('Methylation rate', 565, 475)
ann('HypoMD', 861, 448, xanchor='right')
ann('HyperMD', 1023, 448, xanchor='left')
ann('SVM class', 945, 475)
ann('membership probability', 945, 499)
ann('0', 1221, 448, xanchor='right')
ann('41', 1383, 448, xanchor='left')
ann('DHS calling confidence', 1307, 475)
ann('-log<sub>10</sub>(q-value)', 1304, 499)
ann('Cutoff', 305, 598, xanchor='right')
ann('Precision', 28, 984, textangle=-90, color='#222222')
ann('Recall', 420, 1332, color='#222222')
ann('Recall', 1119, 1332, color='#222222')

# ======================= AXES =======================
pr_axis = dict(range=[-0.05, 1.05], showline=True, mirror=True, linecolor='#b3b3b3', linewidth=1,
               showgrid=True, gridcolor='#dedede', gridwidth=1, zeroline=False, ticks='outside', ticklen=5,
               tickcolor='#b3b3b3', tickwidth=1, tickvals=ticks_pr, ticktext=tick_text_pr,
               tickfont=dict(family=FONT, size=21, color='#4d4d4d'),
               minor=dict(tickvals=[0.125, 0.375, 0.625, 0.875], showgrid=True, gridcolor='#f1f1f1',
                          gridwidth=0.8, ticks=''),
               fixedrange=True)

fig.update_layout(
    width=W, height=H, margin=dict(l=0, r=0, t=0, b=0), autosize=False,
    paper_bgcolor='white', plot_bgcolor='white', showlegend=False, barmode='overlay',
    font=dict(family=FONT, size=21, color='#333333'),
    xaxis=dict(domain=[px(168), px(1438)], range=[0, region_len_kb], visible=False, anchor='y', fixedrange=True),
    yaxis=dict(domain=[py(425), 1], range=[425, 0], visible=False, anchor='x', fixedrange=True),
    yaxis2=dict(domain=[py(Y_DNASE[1]), py(Y_DNASE[0])], range=[0, 47], visible=False, anchor='x',
                fixedrange=True),
    xaxis2=dict(domain=[px(101), px(738)], anchor='y3', ticklabelstandoff=3, **pr_axis),
    yaxis3=dict(domain=[py(1278), py(647)], anchor='x2', ticklabelstandoff=3, **pr_axis),
    xaxis3=dict(domain=[px(801), px(1438)], anchor='y4', ticklabelstandoff=3, **pr_axis),
    yaxis4=dict(domain=[py(1278), py(647)], anchor='x3', showticklabels=False, **pr_axis),
    shapes=shapes, annotations=annotations,
)

fig.write_html("out.html")
